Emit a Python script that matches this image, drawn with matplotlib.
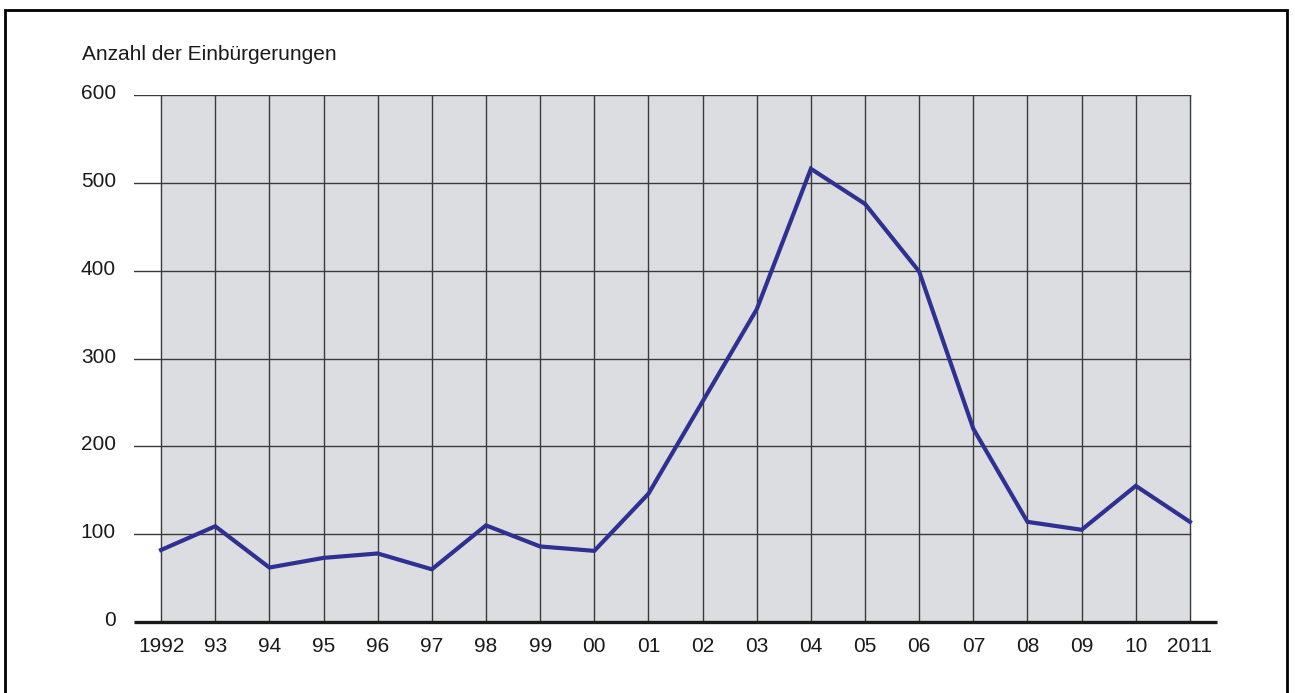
import matplotlib.pyplot as plt
from matplotlib.patches import Rectangle
from matplotlib.transforms import ScaledTranslation

years = list(range(1992, 2012))
year_labels = ['1992', '93', '94', '95', '96', '97', '98', '99', '00', '01',
               '02', '03', '04', '05', '06', '07', '08', '09', '10', '2011']
einbuergerungen = [82, 109, 62, 73, 78, 60, 110, 86, 81, 146,
                   251, 356, 516, 476, 399, 220, 114, 105, 155, 114]
y_ticks = [0, 100, 200, 300, 400, 500, 600]

plt.rcParams['font.family'] = ['Liberation Sans', 'DejaVu Sans']

fig = plt.figure(figsize=(12.95, 6.93), dpi=100)
ax = fig.add_axes([134 / 1295, 71 / 693, (1217 - 134) / 1295, (622 - 95) / 693])

x0, x1 = years[0], years[-1]
ax.set_xlim(x0 - 0.5, x1 + 0.5)
ax.set_ylim(0, 600)

# grauer Hintergrund nur zwischen erstem und letztem Jahr
ax.axvspan(x0, x1, color='#dcdde0', zorder=0)

# Gitternetz
for y in y_ticks[1:]:
    ax.plot([x0 - 0.5, x1], [y, y], color='#3a3a3a', lw=1, zorder=1)
for x in years:
    ax.plot([x, x], [0, 600], color='#3a3a3a', lw=1, zorder=1)

# Grundlinie
ax.plot([x0 - 0.5, x1 + 0.5], [0, 0], color='#1a1a1a', lw=2.4,
        clip_on=False, zorder=3, solid_capstyle='butt')

ax.plot(years, einbuergerungen, color='#2e3192', lw=3, zorder=4,
        solid_joinstyle='miter', clip_on=False)

for s in ax.spines.values():
    s.set_visible(False)

ax.set_xticks(years)
ax.set_xticklabels(year_labels, fontsize=15, color='#1a1a1a')
ax.set_yticks(y_ticks)
ax.set_yticklabels([str(v) for v in y_ticks], fontsize=15, color='#1a1a1a')
ax.tick_params(axis='both', length=0)
ax.tick_params(axis='x', pad=11)
ax.tick_params(axis='y', pad=13)
off = ScaledTranslation(0, 2.5 / 72, fig.dpi_scale_trans)
for lbl in ax.get_yticklabels():
    lbl.set_transform(lbl.get_transform() + off)

fig.text(82 / 1295, 1 - 55 / 693, 'Anzahl der Einbürgerungen', fontsize=15,
         color='#1a1a1a', ha='left', va='center')

# Rahmen (unten offen, läuft über den Bildrand hinaus)
fig.patches.append(Rectangle((5 / 1295, -10 / 693), 1282 / 1295, 693 / 693,
                             transform=fig.transFigure, fill=False,
                             edgecolor='black', lw=2))

fig.savefig('out.png', dpi=100)
